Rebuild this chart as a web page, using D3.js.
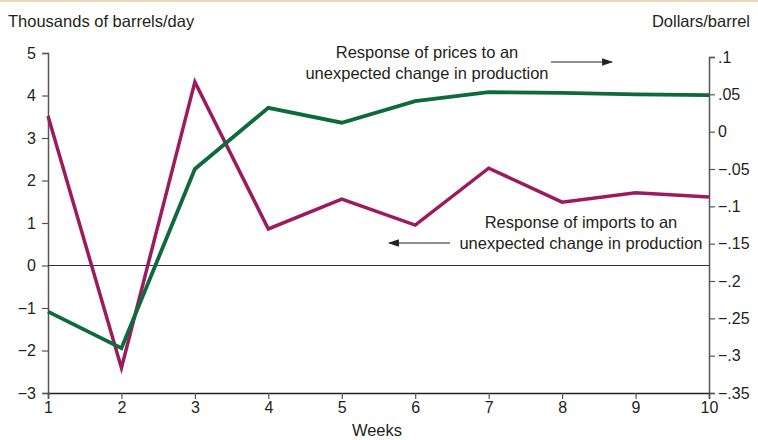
<!DOCTYPE html>
<html>
<head>
<meta charset="utf-8">
<script src="https://cdn.jsdelivr.net/npm/d3@7"></script>
<style>
  body { margin: 0; background: #fff; }
  svg text { font-family: "Liberation Sans", Arial, sans-serif; fill: #231f20; }
</style>
</head>
<body>
<div id="chart"></div>
<script>
var weeks = [1, 2, 3, 4, 5, 6, 7, 8, 9, 10];
// imports, thousands of barrels/day (left axis)
var imports = [3.52, -2.41, 4.32, 0.86, 1.56, 0.95, 2.29, 1.49, 1.71, 1.61];
// prices, dollars/barrel (right axis)
var prices = [-0.241, -0.29, -0.05, 0.032, 0.012, 0.041, 0.053, 0.052, 0.05, 0.049];
var leftTicks = [5, 4, 3, 2, 1, 0, -1, -2, -3];
var rightTicks = [0.1, 0.05, 0, -0.05, -0.1, -0.15, -0.2, -0.25, -0.3, -0.35];

var width = 758, height = 440;
var fs = "16.5px";   // titles + notes
var tfs = "16px";    // tick labels

var svg = d3.select("#chart").append("svg")
  .attr("width", width)
  .attr("height", height);

// thin band on top
svg.append("rect").attr("x", 0).attr("y", 0).attr("width", width).attr("height", 2)
  .attr("fill", "#ead8b8");

var x = d3.scaleLinear().domain([1, 10]).range([48, 709]);
var yL = d3.scaleLinear().domain([-3, 5]).range([393, 53]);
var yR = d3.scaleLinear().domain([-0.35, 0.1]).range([393, 57]);

// Left axis.
var leftAxis = d3.axisLeft(yL).tickValues(leftTicks).tickSize(6).tickPadding(6)
  .tickFormat(function (d) { return d < 0 ? "\u2212" + Math.abs(d) : d; });
var gL = svg.append("g").attr("transform", "translate(48,0)").call(leftAxis);

// Right axis.
var fmtR = function (d) {
  if (d === 0) return "0";
  var s = d3.format(".2~f")(Math.abs(d)).replace(/^0/, "");
  return d < 0 ? "\u2212" + s : s;
};
var rightAxis = d3.axisRight(yR).tickValues(rightTicks).tickSize(6).tickPadding(3)
  .tickFormat(fmtR);
var gR = svg.append("g").attr("transform", "translate(709,0)").call(rightAxis);

// Bottom axis.
var bottomAxis = d3.axisBottom(x).tickValues(weeks).tickSize(6).tickPadding(3);
var gB = svg.append("g").attr("transform", "translate(0,393)").call(bottomAxis);

[gL, gR, gB].forEach(function (g) {
  g.select(".domain").attr("stroke", "#555").attr("stroke-width", 1.5);
  g.selectAll(".tick line").attr("stroke", "#555").attr("stroke-width", 1.2);
  g.selectAll(".tick text").style("font-size", tfs).attr("fill", "#231f20");
});
gB.select(".domain").attr("stroke", "#222");

// zero line
svg.append("line")
  .attr("x1", x(1)).attr("x2", x(10))
  .attr("y1", yL(0)).attr("y2", yL(0))
  .attr("stroke", "#333").attr("stroke-width", 1);

var lineL = d3.line().x(function (d, i) { return x(weeks[i]); }).y(function (d) { return yL(d); });
var lineR = d3.line().x(function (d, i) { return x(weeks[i]); }).y(function (d) { return yR(d); });

svg.append("path").datum(imports)
  .attr("d", lineL).attr("fill", "none")
  .attr("stroke", "#9c1b5f").attr("stroke-width", 3.5).attr("stroke-linejoin", "miter");

svg.append("path").datum(prices)
  .attr("d", lineR).attr("fill", "none")
  .attr("stroke", "#0e6a3a").attr("stroke-width", 3.8).attr("stroke-linejoin", "miter");

// axis titles
svg.append("text").attr("x", 8).attr("y", 27).style("font-size", fs)
  .text("Thousands of barrels/day");
svg.append("text").attr("x", 750).attr("y", 27).attr("text-anchor", "end").style("font-size", fs)
  .text("Dollars/barrel");
svg.append("text").attr("x", 377).attr("y", 436).attr("text-anchor", "middle").style("font-size", fs)
  .text("Weeks");

// arrow marker
svg.append("defs").append("marker")
  .attr("id", "arr").attr("viewBox", "0 0 10 10").attr("refX", 9).attr("refY", 5)
  .attr("markerWidth", 11).attr("markerHeight", 11).attr("markerUnits", "userSpaceOnUse")
  .attr("orient", "auto")
  .append("path").attr("d", "M0,1.5 L10,5 L0,8.5 Z").attr("fill", "#222");

// annotation: prices
var a1 = svg.append("text").attr("text-anchor", "middle").style("font-size", fs);
a1.append("tspan").attr("x", 427).attr("y", 58).text("Response of prices to an");
a1.append("tspan").attr("x", 427).attr("y", 79).text("unexpected change in production");
svg.append("line").attr("x1", 551).attr("x2", 612).attr("y1", 62).attr("y2", 62)
  .attr("stroke", "#222").attr("stroke-width", 1.2).attr("marker-end", "url(#arr)");

// annotation: imports
var a2 = svg.append("text").attr("text-anchor", "middle").style("font-size", fs);
a2.append("tspan").attr("x", 581).attr("y", 228).text("Response of imports to an");
a2.append("tspan").attr("x", 581).attr("y", 249).text("unexpected change in production");
svg.append("line").attr("x1", 450).attr("x2", 389).attr("y1", 243).attr("y2", 243)
  .attr("stroke", "#222").attr("stroke-width", 1.2).attr("marker-end", "url(#arr)");
</script>
</body>
</html>
